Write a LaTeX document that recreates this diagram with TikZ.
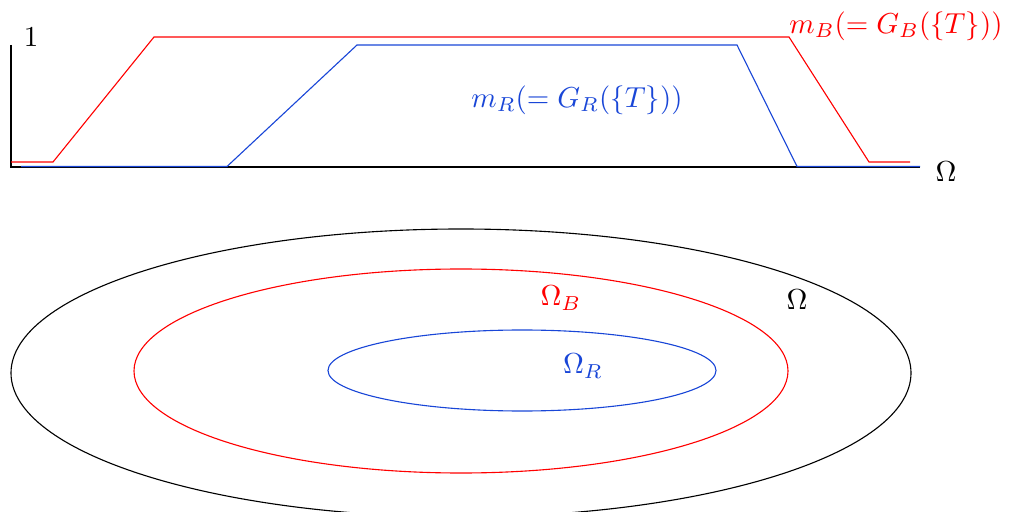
\documentclass[tikz,border=0pt]{standalone}
\usepackage{amsmath}
\definecolor{myblue}{RGB}{25,70,215}
\definecolor{myred}{RGB}{255,0,0}
\begin{document}
\begin{tikzpicture}[x=0.36pt,y=-0.36pt,
  redline/.style={myred,line width=0.4pt},
  blueline/.style={myblue,line width=0.4pt},
  axis/.style={black,line width=0.4pt},
  lbl/.style={inner sep=0pt,scale=1.04}]
\useasboundingbox (0,0) rectangle (1011,512);
% axes
\coordinate (o) at (11,167);
\coordinate (ytop) at (11,45);
\coordinate (xend) at (920,167);
\draw[axis] (ytop) -- (o) -- (xend);
\node[lbl] (one) at (31,37) {$1$};
\node[lbl] (om) at (946,172) {$\Omega$};
% red trapezoid
\draw[redline] (11,162) -- (53,162) -- (154,37) -- (789,37) -- (869,162) -- (910,162);
% blue trapezoid
\draw[blueline] (21,166.5) -- (227,166.5) -- (357,45) -- (737,45) -- (797,166.5) -- (920,166.5);
\node[lbl,myred] (mb) at (896,26) {$m_B(=G_B(\{T\}))$};
\node[lbl,myblue] (mr) at (577,100) {$m_R(=G_R(\{T\}))$};
% ellipses
\draw[axis] (461,373) ellipse [x radius=450, y radius=144];
\draw[redline] (461,371) ellipse [x radius=327, y radius=102];
\draw[blueline] (522,370.5) ellipse [x radius=194, y radius=40.5];
\node[lbl,myred] (ob) at (561,298) {$\Omega_B$};
\node[lbl,myblue] (or) at (583,366) {$\Omega_R$};
\node[lbl] (oo) at (797,300) {$\Omega$};
\end{tikzpicture}
\end{document}
